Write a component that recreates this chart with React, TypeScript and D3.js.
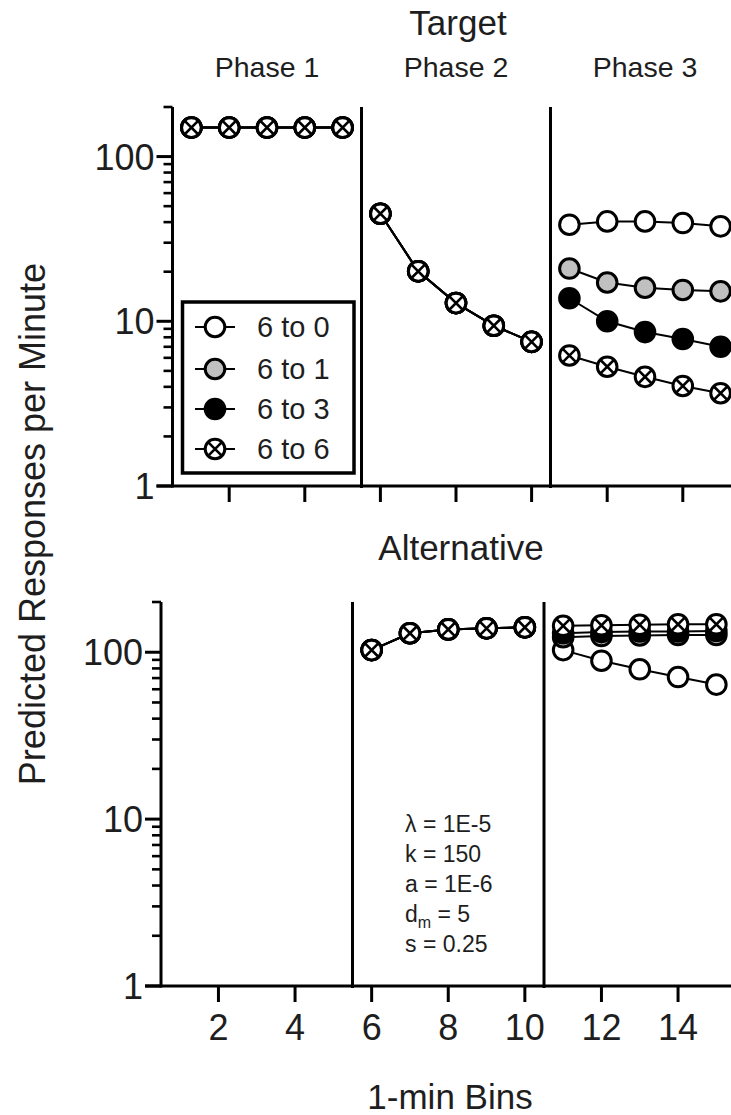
import React from "react";
import * as d3 from "d3";

// ---------- DATA ----------
const seriesNames = ["6 to 0", "6 to 1", "6 to 3", "6 to 6"];
const seriesFill = ["#ffffff", "#c0c0c0", "#000000", "#ffffff"];
const seriesCross = [false, false, false, true];

const phase1Bins = [1, 2, 3, 4, 5];
const phase2Bins = [6, 7, 8, 9, 10];
const phase3Bins = [11, 12, 13, 14, 15];
const phaseLabels = ["Phase 1", "Phase 2", "Phase 3"];
const phaseBounds = [0.5, 5.5, 10.5, 15.5];

// Target panel
const targetPhase1 = [150, 150, 150, 150, 150];
const targetPhase2 = [45, 20.1, 12.9, 9.4, 7.5];
const targetPhase3 = [
  [38.6, 40.4, 40.4, 39.5, 37.7],
  [20.9, 17.2, 16.0, 15.5, 15.2],
  [13.8, 10.0, 8.6, 7.8, 7.0],
  [6.2, 5.3, 4.6, 4.05, 3.66],
];

// Alternative panel (no alternative in phase 1)
const altPhase2 = [103, 130, 137, 139, 141];
const altPhase3 = [
  [103, 89, 79, 71, 64],
  [123, 125, 126, 127, 127],
  [130, 132, 133, 133, 134],
  [144, 145, 146, 147, 147],
];

const xTicks = [2, 4, 6, 8, 10, 12, 14];
const yMajor = [1, 10, 100];
const yMinor = [2, 3, 4, 5, 6, 7, 8, 9, 20, 30, 40, 50, 60, 70, 80, 90, 200];
const paramLines = ["λ = 1E-5", "k = 150", "a = 1E-6", "d|m| = 5", "s = 0.25"];

// ---------- STYLE ----------
const FONT = "'Liberation Sans', Arial, Helvetica, sans-serif";
const TEXT = "#1e1e1e";
const R = 9.8;

type Panel = { x0: number; x1: number; yTop: number; yBot: number };
const topPanel: Panel = { x0: 172.5, x1: 739.5, yTop: 107, yBot: 486 };
const botPanel: Panel = { x0: 161, x1: 735.5, yTop: 602, yBot: 986 };

function Marker({ cx, cy, fill, cross }: { cx: number; cy: number; fill: string; cross: boolean }) {
  const d = R * Math.SQRT1_2;
  return (
    <g>
      <circle cx={cx} cy={cy} r={R} fill={fill} stroke="#000" strokeWidth={3} />
      {cross && (
        <path
          d={`M${cx - d},${cy - d}L${cx + d},${cy + d}M${cx - d},${cy + d}L${cx + d},${cy - d}`}
          stroke="#000"
          strokeWidth={2.6}
        />
      )}
    </g>
  );
}

function Segment({ bins, vals, x, y, idx }: { bins: number[]; vals: number[]; x: any; y: any; idx: number }) {
  const line = d3
    .line<number>()
    .x((_, i) => x(bins[i]))
    .y((v) => y(v));
  return (
    <g>
      <path d={line(vals) || ""} fill="none" stroke="#000" strokeWidth={2} />
      {vals.map((v, i) => (
        <Marker key={i} cx={x(bins[i])} cy={y(v)} fill={seriesFill[idx]} cross={seriesCross[idx]} />
      ))}
    </g>
  );
}

function Axes({ p, x, y, labels }: { p: Panel; x: any; y: any; labels: boolean }) {
  return (
    <g>
      <line x1={p.x0} x2={p.x0} y1={p.yTop} y2={p.yBot + 1.5} stroke="#000" strokeWidth={3} />
      {yMajor.map((v) => (
        <g key={"M" + v}>
          <line x1={p.x0 - 16} x2={p.x0} y1={y(v)} y2={y(v)} stroke="#000" strokeWidth={3} />
          <text
            x={p.x0 - 18}
            y={y(v)}
            dy="0.36em"
            textAnchor="end"
            fontSize={36}
            fontFamily={FONT}
            fill={TEXT}
          >
            {v}
          </text>
        </g>
      ))}
      {yMinor.map((v) => (
        <line key={"m" + v} x1={p.x0 - 9} x2={p.x0} y1={y(v)} y2={y(v)} stroke="#000" strokeWidth={2.6} />
      ))}
      <line x1={p.x0 - 16} x2={731} y1={p.yBot} y2={p.yBot} stroke="#000" strokeWidth={3} />
      {xTicks.map((t) => (
        <g key={"x" + t}>
          <line x1={x(t)} x2={x(t)} y1={p.yBot} y2={p.yBot + 16} stroke="#000" strokeWidth={3} />
          {labels && (
            <text
              x={x(t)}
              y={p.yBot + 54}
              textAnchor="middle"
              fontSize={36}
              fontFamily={FONT}
              fill={TEXT}
            >
              {t}
            </text>
          )}
        </g>
      ))}
      {[phaseBounds[1], phaseBounds[2]].map((b) => (
        <line key={"d" + b} x1={x(b)} x2={x(b)} y1={p.yTop} y2={p.yBot + 2} stroke="#000" strokeWidth={3} />
      ))}
    </g>
  );
}

export default function App() {
  const xT = d3.scaleLinear().domain([0.5, 15.5]).range([topPanel.x0, topPanel.x1]);
  const yT = d3.scaleLog().domain([1, 200]).range([topPanel.yBot, topPanel.yTop]);
  const xB = d3.scaleLinear().domain([0.5, 15.5]).range([botPanel.x0, botPanel.x1]);
  const yB = d3.scaleLog().domain([1, 200]).range([botPanel.yBot, botPanel.yTop]);

  const legX = 182.5;
  const legY = 302;
  const legW = 171.5;
  const legH = 171;
  const legRows = [327, 369, 409, 449];

  return (
    <svg
      width={731}
      height={1115}
      style={{ position: "absolute", left: 0, top: 0, background: "#fff" }}
      fontFamily={FONT}
    >
      <rect x={0} y={0} width={731} height={1115} fill="#fff" />

      <text x={458} y={35} textAnchor="middle" fontSize={35} fill={TEXT}>
        Target
      </text>
      {phaseLabels.map((l, i) => (
        <text
          key={l}
          x={(xT(phaseBounds[i]) + xT(phaseBounds[i + 1])) / 2}
          y={77}
          textAnchor="middle"
          fontSize={28.5}
          fill={TEXT}
        >
          {l}
        </text>
      ))}
      <text x={461} y={560} textAnchor="middle" fontSize={35} fill={TEXT}>
        Alternative
      </text>
      <text x={450} y={1109} textAnchor="middle" fontSize={35} fill={TEXT}>
        1-min Bins
      </text>
      <text
        transform="translate(45,524) rotate(-90)"
        textAnchor="middle"
        fontSize={36}
        fill={TEXT}
      >
        Predicted Responses per Minute
      </text>

      {/* TOP PANEL */}
      <Axes p={topPanel} x={xT} y={yT} labels={false} />
      {seriesNames.map((_, i) => (
        <g key={"t" + i}>
          <Segment bins={phase1Bins} vals={targetPhase1} x={xT} y={yT} idx={i} />
          <Segment bins={phase2Bins} vals={targetPhase2} x={xT} y={yT} idx={i} />
        </g>
      ))}
      {seriesNames.map((_, i) => (
        <Segment key={"t3" + i} bins={phase3Bins} vals={targetPhase3[i]} x={xT} y={yT} idx={i} />
      ))}

      {/* legend */}
      <rect x={legX} y={legY} width={legW} height={legH} fill="#fff" stroke="#000" strokeWidth={3.5} />
      {seriesNames.map((n, i) => (
        <g key={"l" + n}>
          <line x1={195} x2={235} y1={legRows[i]} y2={legRows[i]} stroke="#000" strokeWidth={2} />
          <Marker cx={215} cy={legRows[i]} fill={seriesFill[i]} cross={seriesCross[i]} />
          <text x={257} y={legRows[i]} dy="0.36em" fontSize={29} fill={TEXT}>
            {n}
          </text>
        </g>
      ))}

      {/* BOTTOM PANEL */}
      <Axes p={botPanel} x={xB} y={yB} labels={true} />
      {seriesNames.map((_, i) => (
        <Segment key={"b2" + i} bins={phase2Bins} vals={altPhase2} x={xB} y={yB} idx={i} />
      ))}
      {seriesNames.map((_, i) => (
        <Segment key={"b3" + i} bins={phase3Bins} vals={altPhase3[i]} x={xB} y={yB} idx={i} />
      ))}

      {/* parameters */}
      {paramLines.map((l, i) => {
        const parts = l.split("|");
        return (
          <text key={l} x={405} y={832 + i * 30} fontSize={23} fill={TEXT}>
            {parts.length === 1 ? (
              l
            ) : (
              <>
                {parts[0]}
                <tspan fontSize={16} dy={6}>
                  {parts[1]}
                </tspan>
                <tspan dy={-6}>{parts[2]}</tspan>
              </>
            )}
          </text>
        );
      })}
    </svg>
  );
}
